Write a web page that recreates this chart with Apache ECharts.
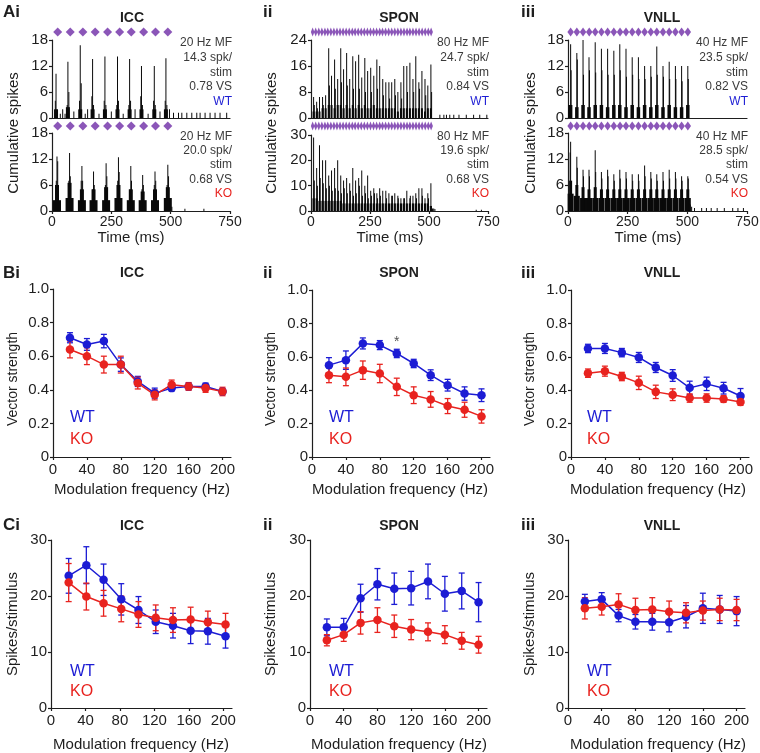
<!DOCTYPE html>
<html>
<head>
<meta charset="utf-8">
<script src="https://cdn.jsdelivr.net/npm/echarts@6/dist/echarts.min.js"></script>
<style>
html,body{margin:0;padding:0;background:#fff;}
#chart{width:760px;height:753px;}
</style>
</head>
<body>
<div id="chart"></div>
<script>
// ================= DATA =================
// ---- Row A: cumulative spike histograms (time in ms, counts) ----
const timeTicks = [0, 250, 500, 750];
const iccYTicks = [0, 6, 12, 18];
const sponWtYTicks = [0, 8, 16, 24];
const sponKoYTicks = [0, 10, 20, 30];
const vnllYTicks = [0, 6, 12, 18];

// stimulus (modulation cycle) markers
const iccStim = [24, 77, 130, 182, 234, 285, 334, 386, 436, 488];
const sponStim = [7, 20, 33, 46, 59, 71, 84, 97, 110, 123, 136, 149, 162, 175, 187, 200, 213, 226, 239, 252,
                  265, 278, 291, 303, 316, 329, 342, 355, 368, 381, 394, 407, 419, 432, 445, 458, 471, 484, 497, 509];
const vnllStim = [11, 37, 63, 89, 114, 140, 166, 192, 218, 243, 269, 295, 321, 347, 372, 398, 424, 450, 476, 502];

// ICC WT (20 Hz)
const iccWtTimes = [17, 67, 119, 171, 223, 276, 327, 377, 431, 480];
const iccWtPeak = [10.2, 13, 16.8, 13.6, 14.2, 14.2, 13.6, 12, 12, 13.8];
const iccWtCore = [2, 2.5, 2, 2, 2, 2, 2, 2, 2, 2];
const iccWtWide = [];
const iccWtExtra = [[14,4],[21,2],[64,3],[71,6],[116,4],[123,8],[168,5],[175,3],[220,4],[227,3],[273,3],[280,4],
  [324,3],[331,4],[374,5],[381,3],[428,4],[435,3],[477,4],[484,3],
  [35,1],[45,2],[55,1],[92,1.5],[140,1],[150,2],[198,1],[250,1.5],[300,1],[350,2],[405,1],[455,1.5],[495,2],
  [512,1.2],[533,1.2],[547,1.2],[568,1.2],[589,1.2],[610,1.2],[624,1.2],[645,1.2],[666,1.2],[687,1.2],[708,1.2],[736,1.2]];

// ICC KO (20 Hz)
const iccKoTimes = [21, 74, 126, 175, 228, 280, 332, 382, 434, 488];
const iccKoPeak = [12.6, 13.4, 10.4, 9.1, 11, 12.4, 10.4, 8.3, 9.1, 10.7];
const iccKoCore = [6, 6.5, 5, 5, 5.5, 6, 5, 4.5, 5, 5.5];
const iccKoWide = [2.5, 3, 2.5, 2.5, 2.5, 3, 2.5, 2.5, 2.5, 3];
const iccKoExtra = [[24,11.5],[77,8],[123,7],[129,7],[178,6],[231,8],[283,9],[335,7],[385,6],[437,7],[491,8],
  [18,7],[71,7],[172,5],[225,6],[277,7],[329,5],[379,5],[431,6],[485,6],[505,1],[560,0.5],[640,0.5]];

// SPON (80 Hz)
const sponTimes = [11, 24, 36, 49, 62, 75, 87, 100, 113, 126, 138, 151, 164, 177, 189, 202, 215, 228, 240, 253,
                   266, 279, 291, 304, 317, 330, 342, 355, 368, 381, 393, 406, 419, 432, 444, 457, 470, 483, 495, 508];
const sponWtPeak = [6.5, 5, 6.5, 6.5, 7, 21.5, 13, 18, 12, 21.5, 15, 20, 12, 19, 17.5, 19.5, 12.5, 18.5, 14.5, 15.5,
                    13, 18, 16, 12, 11, 11, 11, 12, 8, 11, 16, 16, 17, 12, 19, 11, 14.5, 12, 10, 16.5];
const sponWtCore = [2, 2, 2, 3, 3, 4, 4, 3, 4, 4, 3, 4, 3, 4, 3, 4, 3, 4, 3, 3,
                    4, 3, 3, 3, 3, 3, 3, 3, 2, 3, 3, 3, 3, 3, 3, 3, 3, 2, 3, 3];
const sponWtWide = [];
const sponWtExtra = [[14,4],[27,3],[52,4],[78,10],[103,9],[129,11],[154,10],[180,9],[205,9],[231,8],[256,8],[282,9],
  [307,7],[333,6],[358,7],[384,6],[409,8],[435,8],[460,9],[486,7],[511,8],
  [546,1],[563,1],[574,1],[588,1],[605,1],[627,1],[658,1],[689,1],[715,1],[745,1]];

const sponKoPeak = [29, 17, 26, 20, 20, 14, 16, 17, 20, 14, 12, 13, 11, 17, 12, 13, 16, 10, 14, 8,
                    9, 7, 9, 8, 8, 7, 6, 7, 6, 5, 5, 8, 5, 6, 7, 9, 9, 5, 7, 11];
const sponKoCore = [5, 5, 4, 4, 4, 4, 4, 4, 4, 4, 3, 3, 3, 3, 3, 3, 3, 3, 3, 3,
                    3, 3, 3, 3, 3, 3, 3, 3, 3, 3, 3, 3, 3, 3, 3, 3, 3, 3, 3, 2];
const sponKoWide = [];
const sponKoExtra = [[14,12],[27,10],[39,13],[52,11],[65,9],[78,10],[90,8],[103,9],[116,8],[129,7],[141,9],[154,7],
  [167,8],[180,6],[192,7],[205,10],[218,6],[231,7],[243,5],[256,6],[269,7],[282,5],[294,6],[320,5],[345,6],
  [370,5],[396,5],[421,6],[447,5],[472,6],[498,5],[515,1],[520,1],[525,0.8],[700,0.5],[722,0.5]];

// VNLL (40 Hz)
const vnllTimes = [11, 37, 63, 88, 114, 140, 166, 192, 217, 243, 269, 295, 321, 347, 372, 398, 424, 450, 476, 502];
const vnllWtPeak = [17, 15, 18, 14, 17.5, 16, 16, 15.5, 17, 16, 14, 14, 12, 12, 16.5, 12, 13, 12, 12, 12];
const vnllWtCore = [3, 2.5, 3, 2.5, 3, 3, 2.5, 3, 3, 2.5, 3, 2.5, 3, 2.5, 3, 2.5, 3, 2.5, 2.5, 3];
const vnllWtWide = [];
const vnllWtExtra = [[3,3],[13,11],[39,13.5],[65,10],[90,11],[116,10.5],[142,11],[168,10],[194,10],[219,11],[245,9.5],
  [271,10],[297,9],[323,9],[349,9.5],[374,10],[400,9.5],[426,9],[452,9],[478,8.5],[504,9]];

const vnllKoPeak = [16, 12.5, 9.5, 9.5, 14, 9, 9.5, 8.5, 9.5, 9, 8.5, 8.5, 10.5, 9, 8.5, 9, 9.5, 9, 8, 8];
const vnllKoCore = [7, 6, 5.5, 5, 5.5, 5, 5, 5, 5, 5, 5, 5, 5, 5, 5, 5, 5, 5, 5, 5];
const vnllKoWide = [4, 3.5, 3, 3, 3, 3, 3, 3, 3, 3, 3, 3, 3, 3, 3, 3, 3, 3, 3, 3];
const vnllKoExtra = [[9,13.5],[39,10],[65,8],[90,8],[116,9],[142,7.5],[168,8],[194,7],[219,7.5],[245,7.5],[271,7],
  [297,7],[323,8],[349,7.5],[374,7],[400,7],[426,7.5],[452,7.5],[478,7],[504,7.5],
  [512,1.5],[518,1],[530,0.7],[560,0.7],[580,0.7],[600,0.7],[625,0.7],[655,0.7],[690,0.7],[712,0.7],[735,0.7]];

const iccWtNote = ['20 Hz MF', '14.3 spk/', 'stim', '0.78 VS', 'WT'];
const iccKoNote = ['20 Hz MF', '20.0 spk/', 'stim', '0.68 VS', 'KO'];
const sponWtNote = ['80 Hz MF', '24.7 spk/', 'stim', '0.84 VS', 'WT'];
const sponKoNote = ['80 Hz MF', '19.6 spk/', 'stim', '0.68 VS', 'KO'];
const vnllWtNote = ['40 Hz MF', '23.5 spk/', 'stim', '0.82 VS', 'WT'];
const vnllKoNote = ['40 Hz MF', '28.5 spk/', 'stim', '0.54 VS', 'KO'];

// ---- Rows B & C: modulation frequency tuning ----
const freqTicks = [0, 40, 80, 120, 160, 200];
const freqs = [20, 40, 60, 80, 100, 120, 140, 160, 180, 200];
const iccSpkFreqs = [20.5, 41, 61, 81.5, 101.5, 121.5, 141.5, 162, 182, 202.5];

const vsTicks = [0, 0.2, 0.4, 0.6, 0.8, 1.0];
const iccVsWt = [0.71, 0.67, 0.69, 0.55, 0.45, 0.38, 0.41, 0.42, 0.42, 0.39];
const iccVsWtErr = [0.03, 0.035, 0.04, 0.04, 0.03, 0.03, 0.015, 0.02, 0.02, 0.017];
const iccVsKo = [0.64, 0.60, 0.55, 0.55, 0.44, 0.37, 0.43, 0.42, 0.41, 0.39];
const iccVsKoErr = [0.05, 0.05, 0.05, 0.05, 0.035, 0.03, 0.028, 0.023, 0.025, 0.025];

const sponVsWt = [0.55, 0.58, 0.68, 0.67, 0.62, 0.56, 0.49, 0.43, 0.38, 0.37];
const sponVsWtErr = [0.045, 0.055, 0.033, 0.027, 0.025, 0.025, 0.032, 0.035, 0.04, 0.038];
const sponVsKo = [0.49, 0.48, 0.52, 0.50, 0.42, 0.37, 0.345, 0.305, 0.283, 0.243];
const sponVsKoErr = [0.045, 0.053, 0.055, 0.055, 0.052, 0.05, 0.047, 0.045, 0.045, 0.04];
const sponVsSig = [[100, 0.685]];

const vnllVsWt = [0.65, 0.65, 0.625, 0.596, 0.536, 0.488, 0.414, 0.438, 0.412, 0.365];
const vnllVsWtErr = [0.025, 0.03, 0.025, 0.03, 0.03, 0.035, 0.04, 0.04, 0.035, 0.045];
const vnllVsKo = [0.502, 0.514, 0.482, 0.444, 0.39, 0.373, 0.353, 0.353, 0.347, 0.329];
const vnllVsKoErr = [0.025, 0.03, 0.025, 0.04, 0.04, 0.035, 0.025, 0.025, 0.02, 0.02];

const spkTicks = [0, 10, 20, 30];
const iccSpkWt = [23.6, 25.5, 22.9, 19.4, 17.5, 15.4, 14.7, 13.8, 13.7, 12.8];
const iccSpkWtErr = [3.1, 3.3, 2.8, 2.8, 2.4, 2.1, 2.2, 2.3, 2.3, 2.1];
const iccSpkKo = [22.4, 19.9, 18.7, 17.7, 16.7, 16.1, 15.7, 15.8, 15.3, 14.9];
const iccSpkKoErr = [3.4, 2.4, 2.3, 2.3, 2.3, 2.3, 2.2, 2.2, 2.0, 2.0];

const sponSpkWt = [14.4, 14.4, 19.6, 22.1, 21.3, 21.4, 22.6, 20.4, 20.9, 18.9];
const sponSpkWtErr = [1.5, 1.6, 2.5, 2.8, 2.8, 3.0, 3.1, 3.1, 3.2, 3.5];
const sponSpkKo = [12.1, 13.1, 15.2, 15.7, 14.6, 14.0, 13.6, 13.1, 12.0, 11.3];
const sponSpkKoErr = [1.0, 1.2, 2.0, 2.2, 2.0, 1.8, 1.6, 1.6, 1.5, 1.5];

const vnllSpkWt = [19.0, 19.4, 16.5, 15.4, 15.4, 15.3, 16.3, 17.8, 17.6, 17.3];
const vnllSpkWtErr = [1.3, 1.2, 1.1, 1.3, 1.5, 1.7, 2.0, 2.7, 2.5, 2.6];
const vnllSpkKo = [17.8, 18.1, 18.5, 17.5, 17.6, 17.2, 17.0, 17.4, 17.6, 17.5];
const vnllSpkKoErr = [1.9, 1.5, 1.9, 2.1, 2.1, 1.9, 1.8, 1.7, 2.0, 1.9];

// ================= STYLE / LAYOUT =================
const FONT = "'Liberation Sans', Arial, sans-serif";
const INK = '#1e1e1e';
const NOTE = '#3a3a3a';
const BAR = '#0a0a0a';
const WT_C = '#1c1cd4';
const KO_C = '#e8231f';
const STIM_C = '#6e2ca6';

const psth = [
  {times: iccWtTimes, peak: iccWtPeak, core: iccWtCore, wide: iccWtWide, extra: iccWtExtra, yTicks: iccYTicks, stim: iccStim, note: iccWtNote, noteColor: WT_C},
  {times: iccKoTimes, peak: iccKoPeak, core: iccKoCore, wide: iccKoWide, extra: iccKoExtra, yTicks: iccYTicks, stim: iccStim, note: iccKoNote, noteColor: KO_C},
  {times: sponTimes, peak: sponWtPeak, core: sponWtCore, wide: sponWtWide, extra: sponWtExtra, yTicks: sponWtYTicks, stim: sponStim, note: sponWtNote, noteColor: WT_C},
  {times: sponTimes, peak: sponKoPeak, core: sponKoCore, wide: sponKoWide, extra: sponKoExtra, yTicks: sponKoYTicks, stim: sponStim, note: sponKoNote, noteColor: KO_C},
  {times: vnllTimes, peak: vnllWtPeak, core: vnllWtCore, wide: vnllWtWide, extra: vnllWtExtra, yTicks: vnllYTicks, stim: vnllStim, note: vnllWtNote, noteColor: WT_C},
  {times: vnllTimes, peak: vnllKoPeak, core: vnllKoCore, wide: vnllKoWide, extra: vnllKoExtra, yTicks: vnllYTicks, stim: vnllStim, note: vnllKoNote, noteColor: KO_C}
];
const aLayout = [
  {grid: [52, 40, 178, 78], stimTop: 28, noteX: 232, noteY: [43, 58, 73, 87, 102], coreW: 4, wideW: 0, stimSize: [9, 9], bottom: false},
  {grid: [52, 133, 178, 78], stimTop: 122, noteX: 232, noteY: [137, 151, 165, 180, 194], coreW: 4, wideW: 8, stimSize: [9, 9], bottom: true},
  {grid: [311, 40, 177, 78], stimTop: 28, noteX: 489, noteY: [43, 58, 73, 87, 102], coreW: 2, wideW: 0, stimSize: [3.6, 9], bottom: false},
  {grid: [311, 135, 177, 76], stimTop: 122, noteX: 489, noteY: [137, 151, 165, 180, 194], coreW: 2.2, wideW: 0, stimSize: [3.6, 9], bottom: true},
  {grid: [568, 40, 179, 78], stimTop: 28, noteX: 748, noteY: [43, 58, 73, 87, 102], coreW: 3.5, wideW: 0, stimSize: [6.5, 9], bottom: false},
  {grid: [568, 133, 179, 78], stimTop: 122, noteX: 748, noteY: [137, 151, 165, 180, 194], coreW: 3, wideW: 6, stimSize: [6.5, 9], bottom: true}
];

const tuning = [
  {x: freqs, wt: iccVsWt, wtErr: iccVsWtErr, ko: iccVsKo, koErr: iccVsKoErr, yTicks: vsTicks, grid: [53, 289, 178, 168], vs: true, legX: 70, legY: [418, 440]},
  {x: freqs, wt: sponVsWt, wtErr: sponVsWtErr, ko: sponVsKo, koErr: sponVsKoErr, yTicks: vsTicks, grid: [312, 290, 178, 167], vs: true, legX: 329, legY: [418, 440], sig: sponVsSig},
  {x: freqs, wt: vnllVsWt, wtErr: vnllVsWtErr, ko: vnllVsKo, koErr: vnllVsKoErr, yTicks: vsTicks, grid: [571, 290, 178, 167], vs: true, legX: 587, legY: [418, 440]},
  {x: iccSpkFreqs, wt: iccSpkWt, wtErr: iccSpkWtErr, ko: iccSpkKo, koErr: iccSpkKoErr, yTicks: spkTicks, grid: [51, 540, 181, 168], vs: false, legX: 70, legY: [672, 692]},
  {x: freqs, wt: sponSpkWt, wtErr: sponSpkWtErr, ko: sponSpkKo, koErr: sponSpkKoErr, yTicks: spkTicks, grid: [310, 540, 177, 168], vs: false, legX: 329, legY: [672, 692]},
  {x: freqs, wt: vnllSpkWt, wtErr: vnllSpkWtErr, ko: vnllSpkKo, koErr: vnllSpkKoErr, yTicks: spkTicks, grid: [568, 540, 177, 168], vs: false, legX: 587, legY: [672, 692]}
];

// ================= BUILD =================
const grid = [], xAxis = [], yAxis = [], series = [], graphic = [];
const lineStyle = {color: INK, width: 1.2};

function addGrid(g) {
  grid.push({left: g[0], top: g[1], width: g[2], height: g[3], containLabel: false, outerBoundsMode: 'none'});
  return grid.length - 1;
}
function T(x, y, text, o) {
  o = o || {};
  graphic.push({type: 'text', x: x, y: y, rotation: o.rot || 0, z: 100, silent: true,
    style: {text: text, fill: o.color || INK, fontSize: o.size || 14, fontWeight: o.bold ? 'bold' : 'normal',
            fontFamily: FONT, align: o.align || 'center', verticalAlign: o.va || 'middle'}});
}
function barSeries(xi, yi, data, w) {
  return {type: 'custom', xAxisIndex: xi, yAxisIndex: yi, silent: true, data: data,
    renderItem: function (params, api) {
      const p1 = api.coord([api.value(0), api.value(1)]);
      const p0 = api.coord([api.value(0), 0]);
      return {type: 'rect', shape: {x: p1[0] - w / 2, y: p1[1], width: w, height: p0[1] - p1[1]}, style: {fill: BAR}};
    }};
}
function errSeries(xi, yi, data, color) {
  return {type: 'custom', xAxisIndex: xi, yAxisIndex: yi, silent: true, data: data, encode: {x: 0, y: [1, 2]},
    renderItem: function (params, api) {
      const a = api.coord([api.value(0), api.value(2)]);
      const b = api.coord([api.value(0), api.value(1)]);
      const cw = 3;
      const st = {stroke: color, lineWidth: 1.3};
      return {type: 'group', children: [
        {type: 'line', shape: {x1: a[0], y1: a[1], x2: b[0], y2: b[1]}, style: st},
        {type: 'line', shape: {x1: a[0] - cw, y1: a[1], x2: a[0] + cw, y2: a[1]}, style: st},
        {type: 'line', shape: {x1: b[0] - cw, y1: b[1], x2: b[0] + cw, y2: b[1]}, style: st}
      ]};
    }};
}

// ---- Row A ----
psth.forEach(function (p, i) {
  const lay = aLayout[i];
  const gi = addGrid(lay.grid);
  xAxis.push({gridIndex: gi, type: 'value', min: timeTicks[0], max: timeTicks[timeTicks.length - 1], interval: timeTicks[1] - timeTicks[0],
    axisLine: {show: true, lineStyle: lineStyle}, axisTick: {show: lay.bottom, length: 3, lineStyle: lineStyle},
    axisLabel: {show: lay.bottom, color: INK, fontSize: 14, fontFamily: FONT, margin: 4}, splitLine: {show: false}});
  yAxis.push({gridIndex: gi, type: 'value', min: 0, max: p.yTicks[p.yTicks.length - 1], interval: p.yTicks[1] - p.yTicks[0],
    axisLine: {show: true, lineStyle: lineStyle}, axisTick: {show: true, length: 3, lineStyle: lineStyle},
    axisLabel: {color: INK, fontSize: 15, fontFamily: FONT, margin: 4}, splitLine: {show: false}});
  const xi = xAxis.length - 1, yi = yAxis.length - 1;
  if (p.wide.length) series.push(barSeries(xi, yi, p.times.map(function (t, k) { return [t, p.wide[k]]; }), lay.wideW));
  series.push(barSeries(xi, yi, p.times.map(function (t, k) { return [t, p.core[k]]; }), lay.coreW));
  series.push(barSeries(xi, yi, p.times.map(function (t, k) { return [t, p.peak[k]]; }).concat(p.extra), 1));

  const sg = addGrid([lay.grid[0], lay.stimTop, lay.grid[2], 8]);
  xAxis.push({gridIndex: sg, type: 'value', min: timeTicks[0], max: timeTicks[timeTicks.length - 1], show: false});
  yAxis.push({gridIndex: sg, type: 'value', min: 0, max: 1, show: false});
  series.push({type: 'scatter', xAxisIndex: xAxis.length - 1, yAxisIndex: yAxis.length - 1, silent: true,
    symbol: 'diamond', symbolSize: lay.stimSize, itemStyle: {color: STIM_C},
    data: p.stim.map(function (t) { return [t, 0.5]; })});

  p.note.forEach(function (s, k) {
    T(lay.noteX, lay.noteY[k], s, {align: 'right', size: 12, color: k === 4 ? p.noteColor : NOTE});
  });
});

// ---- Rows B & C ----
tuning.forEach(function (p, i) {
  const gi = addGrid(p.grid);
  xAxis.push({gridIndex: gi, type: 'value', min: 0, max: 210, interval: 40,
    axisLine: {show: true, onZero: false, lineStyle: lineStyle},
    axisTick: {show: true, length: 3, lineStyle: lineStyle, customValues: freqTicks},
    axisLabel: {color: INK, fontSize: 15, fontFamily: FONT, margin: 5, customValues: freqTicks},
    splitLine: {show: false}});
  yAxis.push({gridIndex: gi, type: 'value', min: 0, max: p.yTicks[p.yTicks.length - 1], interval: p.yTicks[1] - p.yTicks[0],
    axisLine: {show: true, lineStyle: lineStyle}, axisTick: {show: true, length: 3, lineStyle: lineStyle},
    axisLabel: {color: INK, fontSize: 15, fontFamily: FONT, margin: 4,
      formatter: p.vs ? function (v) { return v === 0 ? '0' : v.toFixed(1); } : '{value}'},
    splitLine: {show: false}});
  const xi = xAxis.length - 1, yi = yAxis.length - 1;
  [['wt', 'wtErr', WT_C], ['ko', 'koErr', KO_C]].forEach(function (d) {
    const vals = p[d[0]], errs = p[d[1]], col = d[2];
    series.push(errSeries(xi, yi, p.x.map(function (f, k) { return [f, vals[k] - errs[k], vals[k] + errs[k]]; }), col));
    series.push({type: 'line', xAxisIndex: xi, yAxisIndex: yi, silent: true, symbol: 'circle', symbolSize: 8.5,
      showSymbol: true, lineStyle: {color: col, width: 1.5}, itemStyle: {color: col},
      data: p.x.map(function (f, k) { return [f, vals[k]]; })});
  });
  if (p.sig) {
    series.push({type: 'scatter', xAxisIndex: xi, yAxisIndex: yi, silent: true, symbolSize: 0, data: p.sig,
      label: {show: true, formatter: '*', position: 'inside', color: INK, fontSize: 14, fontFamily: FONT}});
  }
  T(p.legX, p.legY[0], 'WT', {align: 'left', size: 16, color: WT_C});
  T(p.legX, p.legY[1], 'KO', {align: 'left', size: 16, color: KO_C});
});

// ---- Titles, panel labels, axis names ----
const colTitles = ['ICC', 'SPON', 'VNLL'];
const colTitleX = [132, 399, 662];
const rowTitleY = [18, 273, 526];
rowTitleY.forEach(function (y) {
  colTitles.forEach(function (t, c) { T(colTitleX[c], y, t, {bold: true, size: 14}); });
});
const panelLabels = [['Ai', 'ii', 'iii'], ['Bi', 'ii', 'iii'], ['Ci', 'ii', 'iii']];
const panelLabelX = [3, 263, 521];
const panelLabelY = [12, 273, 525];
panelLabels.forEach(function (row, r) {
  row.forEach(function (s, c) { T(panelLabelX[c], panelLabelY[r], s, {bold: true, size: 17, align: 'left'}); });
});
const colAxisX = [14, 272, 531];
colAxisX.forEach(function (x) {
  T(x, 133, 'Cumulative spikes', {rot: Math.PI / 2, size: 15});
  T(x - 1, 379, 'Vector strength', {rot: Math.PI / 2, size: 14});
  T(x - 1, 624, 'Spikes/stimulus', {rot: Math.PI / 2, size: 15});
});
[131, 390, 648].forEach(function (x) { T(x, 238, 'Time (ms)', {size: 15}); });
[142, 400, 658].forEach(function (x) { T(x, 490, 'Modulation frequency (Hz)', {size: 15}); });
[141, 399, 658].forEach(function (x) { T(x, 745, 'Modulation frequency (Hz)', {size: 15}); });

const chart = echarts.init(document.getElementById('chart'), null, {renderer: 'canvas'});
chart.setOption({
  animation: false,
  backgroundColor: '#ffffff',
  grid: grid, xAxis: xAxis, yAxis: yAxis, series: series, graphic: graphic
});
</script>
</body>
</html>
